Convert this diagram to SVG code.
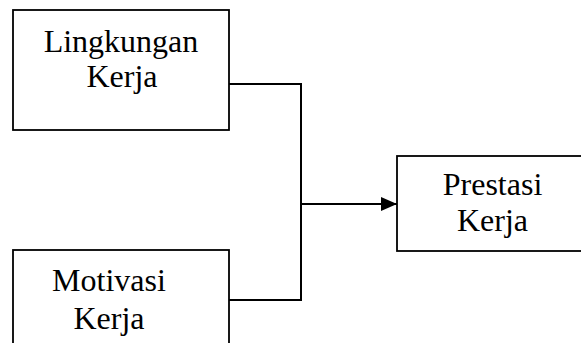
<svg xmlns="http://www.w3.org/2000/svg" width="581" height="343" viewBox="0 0 581 343">
  <style>
    .box { fill: #ffffff; stroke: #000000; stroke-width: 1.8; }
    .lbl { font-family: "Liberation Serif", "Times New Roman", serif; font-size: 32px; fill: #000000; text-anchor: middle; }
    .wire { fill: none; stroke: #000000; stroke-width: 2; }
  </style>
  <defs>
    <marker id="head" viewBox="0 0 16 14" markerWidth="16" markerHeight="14" refX="16" refY="7" orient="auto" markerUnits="userSpaceOnUse">
      <path d="M0,0 L16,7 L0,14 Z" fill="#000000"/>
    </marker>
  </defs>

  <g id="lingkungan-kerja">
    <rect class="box" x="13" y="10" width="216" height="120"/>
    <text class="lbl" x="121" y="52">Lingkungan</text>
    <text class="lbl" x="122" y="87">Kerja</text>
  </g>

  <g id="motivasi-kerja">
    <rect class="box" x="13" y="250" width="216" height="120"/>
    <text class="lbl" x="109" y="291">Motivasi</text>
    <text class="lbl" x="109" y="329">Kerja</text>
  </g>

  <g id="prestasi-kerja">
    <rect class="box" x="397" y="156" width="210" height="95"/>
    <text class="lbl" x="492.5" y="195">Prestasi</text>
    <text class="lbl" x="492.5" y="231">Kerja</text>
  </g>

  <g id="connectors">
    <polyline class="wire" points="229,84 301,84 301,300 229,300"/>
    <line class="wire" x1="301" y1="204" x2="397" y2="204" marker-end="url(#head)"/>
  </g>
</svg>
